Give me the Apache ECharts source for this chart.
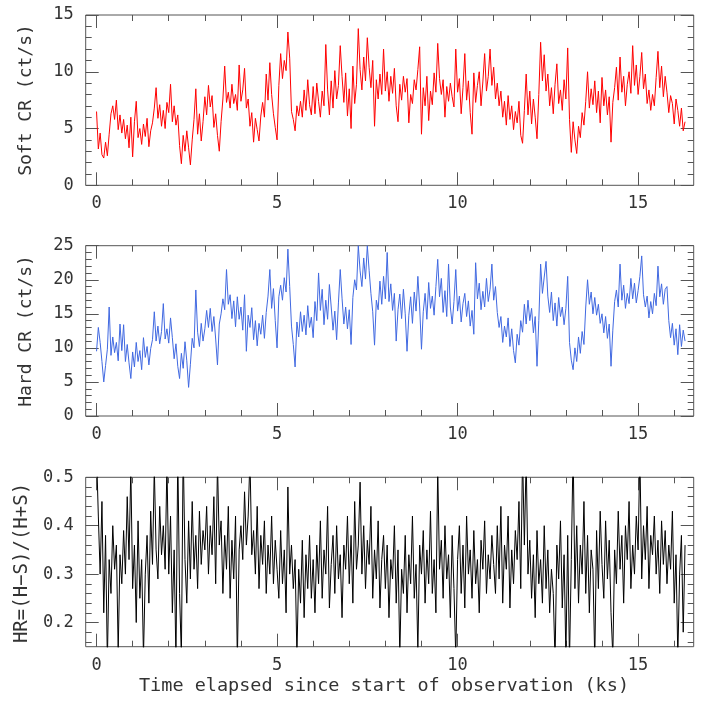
<!DOCTYPE html>
<html><head><meta charset="utf-8">
<script src="https://cdn.jsdelivr.net/npm/echarts@6/dist/echarts.min.js"></script>
<style>html,body{margin:0;padding:0;background:#fff}#c{width:702px;height:709px}</style>
</head><body><div id="c"></div>
<script>
// Time grid of the light curves (ks per bin)
const binWidth = 0.05;

// Soft count rate (ct/s), one value per 0.05 ks bin
const softCR = [
  6.5, 3.2, 4.6, 2.7, 2.4, 3.8, 2.6, 4.5, 6.3, 7.0, 5.8, 7.5, 4.9, 6.2, 4.6, 5.8, 4.1, 5.3, 3.3, 6.0,
  2.5, 5.6, 7.4, 4.2, 5.0, 3.6, 5.4, 4.3, 5.9, 3.4, 4.8, 5.5, 6.8, 8.6, 5.9, 7.1, 5.2, 6.6, 5.0, 7.3,
  6.4, 8.9, 5.6, 7.0, 5.3, 6.2, 3.5, 1.9, 4.4, 3.0, 4.8, 3.3, 1.8, 4.0, 5.8, 8.5, 4.5, 6.3, 3.9, 5.6,
  7.8, 6.2, 8.8, 6.9, 7.9, 5.1, 6.3, 4.4, 3.0, 5.6, 7.6, 10.5, 7.3, 8.2, 6.8, 8.9, 7.2, 8.0, 6.6, 10.6,
  7.4, 8.4, 10.3, 6.8, 7.6, 5.2, 6.4, 3.8, 5.9, 4.9, 3.9, 6.1, 7.3, 6.0, 9.8, 7.5, 10.8, 8.0, 6.3, 5.1,
  4.0, 8.8, 11.6, 9.4, 11.0, 10.1, 13.5, 11.2, 6.5, 5.8, 4.8, 7.0, 6.1, 7.4, 6.0, 8.4, 6.6, 9.3, 7.1, 6.2,
  8.7, 6.3, 9.0, 7.4, 6.0, 8.3, 7.0, 12.4, 8.4, 6.2, 9.2, 6.8, 10.1, 7.6, 8.8, 12.3, 9.6, 7.3, 9.9, 6.1,
  8.5, 5.0, 10.5, 7.2, 8.9, 13.8, 10.2, 8.4, 11.3, 9.2, 13.0, 10.4, 8.6, 11.0, 5.2, 9.3, 7.6, 9.8, 8.0, 12.0,
  8.3, 10.0, 7.4, 9.6, 8.1, 10.3, 7.0, 5.6, 8.9, 7.5, 9.6, 8.2, 9.4, 5.5, 8.0, 7.2, 9.3, 8.4, 10.2, 12.2,
  4.5, 8.6, 7.0, 9.6, 5.7, 8.3, 7.1, 9.9, 8.2, 12.5, 9.4, 8.0, 9.3, 6.0, 8.7, 7.4, 9.0, 7.8, 6.9, 12.0,
  8.2, 9.4, 6.3, 8.6, 11.6, 7.5, 9.2, 6.4, 4.5, 9.9, 7.3, 8.8, 10.0, 7.0, 9.1, 11.6, 8.3, 9.6, 12.0, 8.8,
  10.4, 7.6, 9.0, 7.0, 8.3, 6.0, 7.4, 5.3, 7.9, 5.8, 7.0, 4.9, 6.5, 5.5, 7.4, 4.4, 3.7, 6.6, 9.8, 6.2,
  8.3, 5.4, 7.6, 6.0, 4.1, 8.0, 12.6, 9.2, 11.5, 8.3, 9.8, 7.0, 8.6, 6.3, 8.9, 10.7, 7.2, 8.4, 6.6, 9.3,
  7.6, 12.1, 5.8, 2.9, 5.6, 4.0, 2.8, 5.2, 4.2, 6.4, 5.3, 7.4, 10.0, 6.8, 8.5, 7.1, 9.2, 6.4, 8.3, 5.5,
  9.5, 7.0, 8.4, 6.2, 7.8, 3.8, 7.3, 8.6, 10.4, 7.5, 11.3, 8.2, 9.6, 7.0, 8.9, 10.0, 8.1, 12.3, 8.8, 10.6,
  8.0, 9.6, 11.7, 8.5, 9.8, 7.2, 8.4, 6.6, 8.0, 7.0, 9.5, 11.8, 8.6, 10.5, 7.8, 9.6, 8.2, 6.4, 7.9, 7.2,
  5.4, 7.6, 6.6, 5.2, 6.8, 4.8, 5.6
];

// Hard count rate (ct/s)
const hardCR = [
  9.5, 13.0, 10.8, 8.0, 5.0, 7.4, 9.8, 16.0, 8.9, 11.6, 9.3, 10.8, 8.1, 13.5, 9.6, 13.4, 8.0, 10.5, 7.8, 5.5,
  9.4, 7.2, 10.8, 8.0, 9.6, 6.8, 11.5, 8.6, 10.2, 7.5, 9.9, 11.2, 15.3, 11.0, 13.2, 10.6, 12.4, 16.5, 11.3, 12.8,
  10.7, 14.4, 11.5, 8.4, 10.6, 7.3, 5.5, 9.2, 7.0, 10.9, 8.1, 4.2, 7.6, 11.4, 10.0, 18.5, 12.3, 10.2, 13.6, 11.0,
  12.8, 15.5, 13.0, 15.8, 12.4, 14.6, 11.3, 7.5, 13.5, 15.0, 17.2, 15.6, 21.5, 16.4, 17.8, 14.3, 16.9, 13.1, 17.5, 14.2,
  16.0, 12.6, 17.8, 9.5, 14.8, 13.0, 15.9, 11.2, 14.0, 10.3, 13.6, 12.0, 14.8, 11.4, 15.2, 17.6, 21.5, 15.8, 18.7, 14.0,
  10.0, 17.5, 19.2, 17.0, 20.3, 18.2, 24.5, 19.0, 13.2, 10.5, 7.2, 13.8, 11.6, 15.3, 12.4, 14.8, 11.9, 16.2, 13.0, 14.5,
  11.5, 16.8, 14.0, 21.0, 15.5, 18.6, 13.4, 17.0, 14.2, 19.3, 16.0, 12.6, 15.4, 11.2, 16.6, 21.5, 17.3, 13.5, 16.0, 12.8,
  15.6, 10.5, 17.4, 20.0, 18.5, 25.0, 21.3, 19.0, 23.2, 20.1, 25.0, 21.4, 18.0, 15.3, 10.4, 17.0, 15.6, 19.8, 16.4, 20.5,
  17.2, 24.0, 16.8, 19.4, 15.5, 18.0, 11.0, 15.6, 17.9, 14.3, 18.6, 15.0, 9.5, 14.8, 17.5, 13.6, 18.2, 15.4, 20.5, 16.0,
  9.8, 15.3, 18.0, 14.2, 19.6, 15.8, 17.6, 14.8, 19.0, 23.0, 17.5, 20.2, 15.2, 18.4, 14.6, 22.3, 16.0, 13.5, 16.8, 21.5,
  15.4, 17.6, 13.8, 16.5, 18.0, 14.6, 16.9, 13.2, 15.5, 12.0, 22.5, 17.2, 19.5, 15.6, 18.3, 16.0, 20.2, 16.8, 18.6, 22.3,
  17.0, 19.0, 15.2, 13.0, 14.6, 10.8, 13.2, 11.6, 14.4, 10.2, 12.8, 9.6, 7.8, 12.0, 10.4, 14.0, 12.3, 16.4, 13.5, 17.0,
  14.0, 15.8, 12.2, 14.6, 7.3, 14.0, 22.3, 18.0, 20.4, 22.7, 17.6, 15.2, 18.2, 14.0, 16.6, 13.2, 17.4, 14.6, 16.0, 13.4,
  15.8, 20.5, 10.8, 8.2, 6.8, 10.0, 8.0, 11.6, 9.2, 12.4, 10.5, 16.0, 20.0, 16.4, 18.2, 15.0, 17.4, 14.8, 16.4, 13.6,
  15.0, 12.2, 14.6, 11.4, 13.5, 7.3, 12.6, 16.8, 18.5, 16.0, 22.3, 17.0, 19.2, 15.8, 18.0, 16.5, 20.2, 17.2, 19.5, 16.6,
  18.4, 20.5, 23.5, 17.8, 16.0, 17.6, 14.4, 16.8, 15.0, 18.0, 16.2, 22.0, 17.5, 19.4, 16.4, 18.6, 19.0, 14.0, 11.5, 13.6,
  10.4, 12.8, 9.0, 13.4, 10.2, 12.6, 11.0
];

// Hardness ratio HR=(H-S)/(H+S)
const hardnessRatio = [
  0.55, 0.42, 0.30, 0.45, 0.22, 0.38, 0.12, 0.33, 0.26, 0.40, 0.31, 0.36, 0.14, 0.34, 0.28, 0.39, 0.30, 0.46, 0.33, 0.52,
  0.27, 0.36, 0.20, 0.41, 0.25, 0.33, 0.13, 0.30, 0.38, 0.24, 0.43, 0.32, 0.52, 0.35, 0.29, 0.44, 0.34, 0.40, 0.31, 0.53,
  0.30, 0.42, 0.22, 0.35, 0.12, 0.55, 0.26, 0.13, 0.56, 0.33, 0.24, 0.41, 0.29, 0.45, 0.31, 0.38, 0.27, 0.43, 0.32, 0.39,
  0.35, 0.44, 0.30, 0.40, 0.34, 0.46, 0.28, 0.53, 0.36, 0.41, 0.26, 0.38, 0.31, 0.44, 0.25, 0.37, 0.29, 0.42, 0.12, 0.35,
  0.40, 0.33, 0.47, 0.36, 0.42, 0.54, 0.34, 0.39, 0.30, 0.44, 0.27, 0.38, 0.32, 0.41, 0.26, 0.36, 0.30, 0.42, 0.28, 0.37,
  0.31, 0.25, 0.39, 0.28, 0.35, 0.22, 0.48, 0.30, 0.36, 0.27, 0.33, 0.13, 0.31, 0.24, 0.37, 0.21, 0.34, 0.27, 0.38, 0.25,
  0.33, 0.22, 0.36, 0.28, 0.41, 0.25, 0.35, 0.30, 0.44, 0.23, 0.32, 0.38, 0.26, 0.40, 0.29, 0.34, 0.21, 0.36, 0.31, 0.42,
  0.28, 0.38, 0.24, 0.45, 0.31, 0.36, 0.49, 0.30, 0.40, 0.27, 0.37, 0.32, 0.44, 0.25, 0.35, 0.29, 0.41, 0.23, 0.33, 0.38,
  0.27, 0.36, 0.21, 0.33, 0.29, 0.40, 0.24, 0.35, 0.13, 0.31, 0.26, 0.38, 0.22, 0.34, 0.28, 0.42, 0.25, 0.32, 0.14, 0.36,
  0.30, 0.39, 0.24, 0.35, 0.28, 0.43, 0.26, 0.33, 0.22, 0.52, 0.31, 0.37, 0.25, 0.40, 0.29, 0.34, 0.21, 0.38, 0.27, 0.13,
  0.33, 0.40, 0.26, 0.36, 0.23, 0.42, 0.30, 0.35, 0.25, 0.39, 0.28, 0.33, 0.22, 0.37, 0.31, 0.41, 0.26, 0.34, 0.29, 0.38,
  0.32, 0.26, 0.40, 0.29, 0.44, 0.24, 0.36, 0.31, 0.42, 0.23, 0.35, 0.28, 0.39, 0.33, 0.45, 0.27, 0.55, 0.36, 0.54, 0.30,
  0.37, 0.25, 0.34, 0.21, 0.39, 0.28, 0.33, 0.24, 0.40, 0.27, 0.35, 0.22, 0.31, 0.26, 0.12, 0.36, 0.29, 0.41, 0.23, 0.34,
  0.13, 0.38, 0.12, 0.33, 0.56, 0.27, 0.40, 0.24, 0.36, 0.30, 0.45, 0.26, 0.38, 0.22, 0.35, 0.31, 0.12, 0.39, 0.27, 0.43,
  0.32, 0.25, 0.41, 0.29, 0.37, 0.22, 0.13, 0.35, 0.28, 0.43, 0.31, 0.38, 0.24, 0.40, 0.33, 0.45, 0.27, 0.36, 0.30, 0.42,
  0.35, 0.55, 0.29, 0.40, 0.33, 0.44, 0.27, 0.38, 0.34, 0.42, 0.30, 0.37, 0.26, 0.41, 0.32, 0.39, 0.28, 0.36, 0.31, 0.43,
  0.24, 0.34, 0.13, 0.30, 0.38, 0.18, 0.36
];

// Tick values
const xMajorTicks = [0, 5, 10, 15];
const xMinorTicks = [0, 1, 2, 3, 4, 5, 6, 7, 8, 9, 10, 11, 12, 13, 14, 15, 16];
const softMajorTicks = [0, 5, 10, 15];
const softMinorTicks = [1, 2, 3, 4, 6, 7, 8, 9, 11, 12, 13, 14];
const hardMajorTicks = [0, 5, 10, 15, 20, 25];
const hardMinorTicks = [1, 2, 3, 4, 6, 7, 8, 9, 11, 12, 13, 14, 16, 17, 18, 19, 21, 22, 23, 24];
const hrMajorTicks = [0.2, 0.3, 0.4, 0.5];
const hrMinorTicks = [0.16, 0.18, 0.22, 0.24, 0.26, 0.28, 0.32, 0.34, 0.36, 0.38, 0.42, 0.44, 0.46, 0.48];

const titles = ['Soft CR (ct/s)', 'Hard CR (ct/s)', 'HR=(H\u2212S)/(H+S)'];
const xTitle = 'Time elapsed since start of observation (ks)';

const FONT = "'DejaVu Sans Mono', monospace";
const AX = '#555';
const TXT = '#333';

const panels = [
  { data: softCR, color: '#ff0000', ymin: 0, ymax: 15, major: softMajorTicks, minor: softMinorTicks, top: 15, height: 170.3, fmt: v => String(v) },
  { data: hardCR, color: '#4169e1', ymin: 0, ymax: 25, major: hardMajorTicks, minor: hardMinorTicks, top: 245.7, height: 170.3, fmt: v => String(v) },
  { data: hardnessRatio, color: '#000000', ymin: 0.15, ymax: 0.5, major: hrMajorTicks, minor: hrMinorTicks, top: 477.3, height: 169.4, fmt: v => v.toFixed(1) }
];

const LEFT = 85.7, WIDTH = 608;
const XMIN = -0.3, XMAX = 16.54;

const grid = [], xAxis = [], yAxis = [], series = [];

function xAx(gi, pos, ticks, len, labels) {
  return {
    gridIndex: gi, type: 'value', min: XMIN, max: XMAX, position: pos,
    axisLine: { show: false, onZero: false }, splitLine: { show: false },
    axisTick: { show: true, inside: true, length: len, customValues: ticks, lineStyle: { color: AX, width: 1 } },
    axisLabel: labels ? { show: true, customValues: ticks, margin: 10, fontFamily: FONT, fontSize: 17, color: TXT } : { show: false }
  };
}
function yAx(gi, p, pos, ticks, len, labels) {
  return {
    gridIndex: gi, type: 'value', min: p.ymin, max: p.ymax, position: pos,
    axisLine: { show: false, onZero: false }, splitLine: { show: false },
    axisTick: { show: true, inside: true, length: len, customValues: ticks, lineStyle: { color: AX, width: 1 } },
    axisLabel: labels ? { show: true, customValues: ticks, margin: 12, fontFamily: FONT, fontSize: 17, color: TXT, formatter: p.fmt } : { show: false }
  };
}

panels.forEach((p, i) => {
  const gA = 2 * i, gB = 2 * i + 1;
  grid.push({ left: LEFT, width: WIDTH, top: p.top, height: p.height, show: true, borderColor: AX, borderWidth: 1, backgroundColor: 'transparent' });
  grid.push({ left: LEFT, width: WIDTH, top: p.top, height: p.height, show: false });
  xAxis.push(xAx(gA, 'bottom', xMajorTicks, 13, true));
  xAxis.push(xAx(gA, 'top', xMajorTicks, 13, false));
  xAxis.push(xAx(gB, 'bottom', xMinorTicks, 6, false));
  xAxis.push(xAx(gB, 'top', xMinorTicks, 6, false));
  yAxis.push(yAx(gA, p, 'left', p.major, 13, true));
  yAxis.push(yAx(gA, p, 'right', p.major, 13, false));
  yAxis.push(yAx(gB, p, 'left', p.minor, 6, false));
  yAxis.push(yAx(gB, p, 'right', p.minor, 6, false));
  series.push({
    type: 'line', xAxisIndex: 4 * i, yAxisIndex: 4 * i,
    data: p.data.map((v, k) => [k * binWidth, v]),
    showSymbol: false, symbol: 'none', clip: true, animation: false,
    lineStyle: { color: p.color, width: 1 }, silent: true
  });
});

const graphic = [
  { type: 'text', x: 26, y: 100, rotation: Math.PI / 2, style: { text: titles[0], fontFamily: FONT, fontSize: 18, fill: TXT, textAlign: 'center', textVerticalAlign: 'middle' } },
  { type: 'text', x: 26, y: 331, rotation: Math.PI / 2, style: { text: titles[1], fontFamily: FONT, fontSize: 18, fill: TXT, textAlign: 'center', textVerticalAlign: 'middle' } },
  { type: 'text', x: 22, y: 563, rotation: Math.PI / 2, style: { text: titles[2], fontFamily: FONT, fontSize: 19, fill: TXT, textAlign: 'center', textVerticalAlign: 'middle' } },
  { type: 'text', x: 384, y: 686, style: { text: xTitle, fontFamily: FONT, fontSize: 18.5, fill: TXT, textAlign: 'center', textVerticalAlign: 'middle' } }
];

const chart = echarts.init(document.getElementById('c'), null, { renderer: 'canvas' });
chart.setOption({ animation: false, grid, xAxis, yAxis, series, graphic });
</script></body></html>
